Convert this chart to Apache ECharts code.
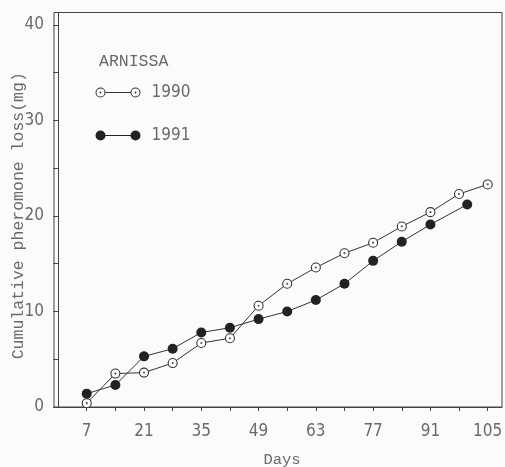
<!DOCTYPE html>
<html>
<head>
<meta charset="utf-8">
<script src="https://cdn.jsdelivr.net/npm/echarts@6/dist/echarts.min.js"></script>
<style>
html,body{margin:0;padding:0;background:#fbfbfa;}
#chart{width:505px;height:467px;}
</style>
</head>
<body>
<div id="chart"></div>
<script>
const legendTitle = 'ARNISSA';
const seriesNames = ['1990', '1991'];
const days1990 = [7, 14, 21, 28, 35, 42, 49, 56, 63, 70, 77, 84, 91, 98, 105];
const loss1990 = [0.4, 3.5, 3.6, 4.6, 6.7, 7.2, 10.6, 12.9, 14.6, 16.1, 17.2, 18.9, 20.4, 22.3, 23.3];
const days1991 = [7, 14, 21, 28, 35, 42, 49, 56, 63, 70, 77, 84, 91, 100];
const loss1991 = [1.4, 2.3, 5.3, 6.1, 7.8, 8.3, 9.2, 10.0, 11.2, 12.9, 15.3, 17.3, 19.1, 21.2];
const xTickLabels = [7, 21, 35, 49, 63, 77, 91, 105];
const xMinorTicks = [7, 14, 21, 28, 35, 42, 49, 56, 63, 70, 77, 84, 91, 98, 105];
const yTickLabels = [0, 10, 20, 30, 40];
const yMinorTicks = [0, 5, 10, 15, 20, 25, 30, 35, 40];
const xAxisName = 'Days';
const yAxisName = 'Cumulative pheromone loss(mg)';

const lineColor = '#333';
const textColor = '#6a6a6a';
const monoFont = '"Liberation Mono", "DejaVu Sans Mono", monospace';
const narrowFont = '"Liberation Sans Narrow", "DejaVu Sans Condensed", "Liberation Sans", sans-serif';

function ring(cx) {
  return 'M' + (cx - 5) + ',5 A5,5 0 1,1 ' + (cx + 5) + ',5 A5,5 0 1,1 ' + (cx - 5) + ',5 Z ' +
    'M' + (cx - 4) + ',5 A4,4 0 1,0 ' + (cx + 4) + ',5 A4,4 0 1,0 ' + (cx - 4) + ',5 Z ' +
    'M' + (cx - 0.9) + ',5 A0.9,0.9 0 1,1 ' + (cx + 0.9) + ',5 A0.9,0.9 0 1,1 ' + (cx - 0.9) + ',5 Z ';
}
function disc(cx) {
  return 'M' + (cx - 5) + ',5 A5,5 0 1,1 ' + (cx + 5) + ',5 A5,5 0 1,1 ' + (cx - 5) + ',5 Z ';
}
const joinBar = 'M10,4.45 L35,4.45 L35,5.55 L10,5.55 Z';
const iconOpen = 'path://' + ring(5) + ring(40) + joinBar;
const iconFilled = 'path://' + disc(5) + disc(40) + joinBar;

const chart = echarts.init(document.getElementById('chart'));
const pairs = (xs, ys) => xs.map((x, i) => [x, ys[i]]);

chart.setOption({
  backgroundColor: '#fbfbfa',
  animation: false,
  title: {
    text: legendTitle,
    left: 99, top: 53, padding: 0,
    textStyle: { fontFamily: monoFont, fontSize: 16.5, fontWeight: 'normal', color: textColor }
  },
  legend: {
    orient: 'vertical',
    left: 95.5, top: 84, padding: 0,
    itemWidth: 45, itemHeight: 10, itemGap: 26,
    textStyle: { fontFamily: narrowFont, fontSize: 17, color: textColor, padding: [0, 0, 0, 6] },
    data: [
      { name: seriesNames[0], icon: iconOpen, itemStyle: { color: lineColor, borderWidth: 0 } },
      { name: seriesNames[1], icon: iconFilled, itemStyle: { color: '#222', borderWidth: 0 } }
    ]
  },
  grid: {
    left: 54, right: 3, top: 12.5, bottom: 60,
    outerBoundsMode: 'none', containLabel: false,
    show: true, borderColor: '#444', borderWidth: 1, backgroundColor: 'transparent'
  },
  xAxis: {
    type: 'value', min: -1, max: 108.5,
    name: xAxisName, nameLocation: 'middle', nameGap: 45, nameMoveOverlap: false,
    nameTextStyle: { fontFamily: monoFont, fontSize: 15.5, color: textColor, padding: [0, 0, 0, 8] },
    axisLine: { show: true, lineStyle: { color: '#444', width: 1 } },
    axisTick: { show: true, length: 4, customValues: xMinorTicks, lineStyle: { color: '#444' } },
    axisLabel: { customValues: xTickLabels, margin: 16, fontFamily: narrowFont, fontSize: 17, color: textColor },
    splitLine: { show: false }
  },
  yAxis: {
    type: 'value', min: 0, max: 41.3,
    name: yAxisName, nameLocation: 'middle', nameGap: 27, nameMoveOverlap: false,
    nameTextStyle: { fontFamily: monoFont, fontSize: 16.5, color: textColor, padding: [0, 12, 0, 0] },
    axisLine: { show: true, lineStyle: { color: '#444', width: 1 } },
    axisTick: { show: true, length: 5, customValues: yMinorTicks, lineStyle: { color: '#444' } },
    axisLabel: { customValues: yTickLabels, margin: 10, fontFamily: narrowFont, fontSize: 17, color: textColor },
    splitLine: { show: false }
  },
  series: [
    {
      name: seriesNames[0], type: 'line', data: pairs(days1990, loss1990),
      symbol: 'circle', symbolSize: 9,
      lineStyle: { color: lineColor, width: 1 },
      itemStyle: { color: '#fff', borderColor: lineColor, borderWidth: 1.1 },
      z: 2
    },
    {
      name: seriesNames[0] + ' centre', type: 'scatter', data: pairs(days1990, loss1990),
      symbol: 'circle', symbolSize: 2.2, silent: true,
      itemStyle: { color: lineColor }, z: 3
    },
    {
      name: seriesNames[1], type: 'line', data: pairs(days1991, loss1991),
      symbol: 'circle', symbolSize: 10,
      lineStyle: { color: lineColor, width: 1 },
      itemStyle: { color: '#222', borderColor: '#222', borderWidth: 0 },
      z: 2
    }
  ]
});
</script>
</body>
</html>
